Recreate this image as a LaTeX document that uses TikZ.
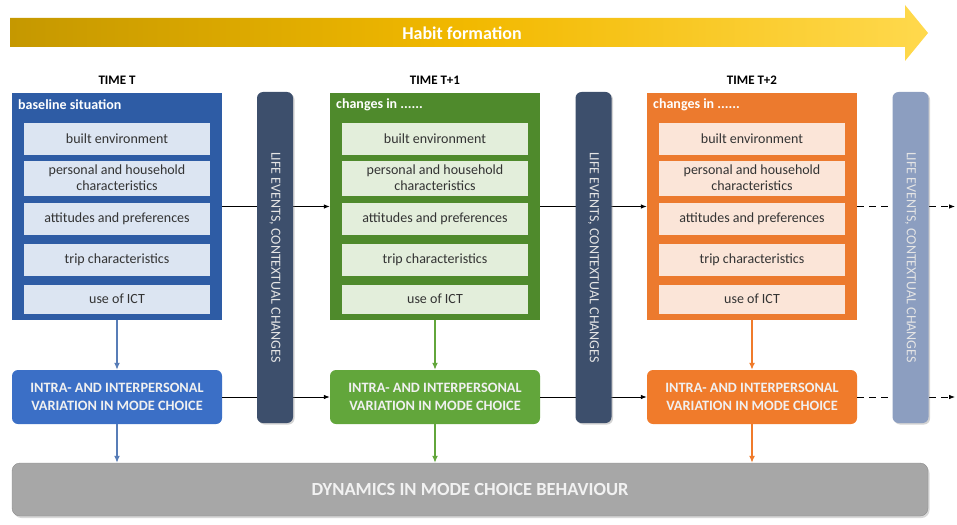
\documentclass[tikz,border=0pt]{standalone}
\usepackage{fontspec}
\setmainfont{Carlito}
\usetikzlibrary{arrows.meta,shadows}

\definecolor{blueout}{HTML}{2E5CA5}
\definecolor{bluein}{HTML}{DCE5F2}
\definecolor{bluemode}{HTML}{3B6FC6}
\definecolor{greenout}{HTML}{4F8A2C}
\definecolor{greenin}{HTML}{E3EEDB}
\definecolor{greenmode}{HTML}{62A63B}
\definecolor{orangeout}{HTML}{EC7A2E}
\definecolor{orangein}{HTML}{FBE5D8}
\definecolor{orangemode}{HTML}{F07B2B}
\definecolor{bardark}{HTML}{3D4F6C}
\definecolor{barlight}{HTML}{8C9EC0}
\definecolor{dyngray}{HTML}{A7A7A7}
\definecolor{habitL}{HTML}{C59800}
\definecolor{habitM}{HTML}{F2B900}
\definecolor{habitR}{HTML}{FFD94D}

\begin{document}
\begin{tikzpicture}[x=1pt,y=1pt]
		\tikzstyle{every node}+=[inner sep=0pt]
		\tikzstyle{time}=[font=\fontsize{13}{13}\selectfont\bfseries]
		\tikzstyle{outer}=[minimum width=210pt, minimum height=227pt]
		\tikzstyle{title}=[anchor=west, text=white, font=\fontsize{14}{14}\selectfont\bfseries]
		\tikzstyle{item}=[minimum width=186pt, minimum height=32pt, align=center, text=black!80, font=\fontsize{14}{16}\selectfont]
		\tikzstyle{mode}=[rounded corners=6pt, minimum width=210pt, minimum height=54pt, align=center, text=white!88!gray, font=\fontsize{14.3}{18}\selectfont\bfseries]
		\tikzstyle{lifebar}=[rounded corners=6pt, minimum width=36pt, minimum height=331pt, text=white!80!gray, font=\fontsize{14}{14}\selectfont, drop shadow={opacity=0.35, shadow xshift=1.5pt, shadow yshift=-1.5pt}]
		\tikzstyle{flow}=[-{Latex[length=6pt,width=4.5pt]}, line width=0.8pt]
		\tikzstyle{down}=[-{Latex[length=7pt,width=6pt]}, line width=1.3pt]
		\tikzstyle{ahead}=[dash pattern=on 7pt off 5pt]
		\useasboundingbox (0,0) rectangle (957,-524);
		% habit formation banner
		\shade [left color=habitL, right color=habitR, middle color=habitM] (10,-18) -- (905,-18) -- (905,-5) -- (928,-33) -- (905,-61) -- (905,-47) -- (10,-47) -- cycle;
		\node [text=white, font=\fontsize{18}{18}\selectfont\bfseries] (habit) at (462,-33) {Habit formation};
		% time T
		\node [time] (t1) at (117,-80) {TIME T};
		\node [outer, fill=blueout] (b1) at (117,-206.5) {};
		\node [title] (b1t) at (18,-105) {baseline situation};
		\node [item, fill=bluein] (b1a) at (117,-139) {built environment};
		\node [item, fill=bluein, minimum height=35pt] (b1b) at (117,-178) {personal and household\\characteristics};
		\node [item, fill=bluein] (b1c) at (117,-218.5) {attitudes and preferences};
		\node [item, fill=bluein] (b1d) at (117,-260) {trip characteristics};
		\node [item, fill=bluein, minimum height=29pt] (b1e) at (117,-299) {use of ICT};
		\node [mode, fill=bluemode] (m1) at (117,-397) {INTRA- AND INTERPERSONAL\\VARIATION IN MODE CHOICE};
		% time T+1
		\node [time] (t2) at (435,-80) {TIME T+1};
		\node [outer, fill=greenout] (b2) at (435,-206.5) {};
		\node [title] (b2t) at (336,-105) {changes in ......};
		\node [item, fill=greenin] (b2a) at (435,-139) {built environment};
		\node [item, fill=greenin, minimum height=35pt] (b2b) at (435,-178) {personal and household\\characteristics};
		\node [item, fill=greenin] (b2c) at (435,-218.5) {attitudes and preferences};
		\node [item, fill=greenin] (b2d) at (435,-260) {trip characteristics};
		\node [item, fill=greenin, minimum height=29pt] (b2e) at (435,-299) {use of ICT};
		\node [mode, fill=greenmode] (m2) at (435,-397) {INTRA- AND INTERPERSONAL\\VARIATION IN MODE CHOICE};
		% time T+2
		\node [time] (t3) at (752,-80) {TIME T+2};
		\node [outer, fill=orangeout] (b3) at (752,-206.5) {};
		\node [title] (b3t) at (653,-105) {changes in ......};
		\node [item, fill=orangein] (b3a) at (752,-139) {built environment};
		\node [item, fill=orangein, minimum height=35pt] (b3b) at (752,-178) {personal and household\\characteristics};
		\node [item, fill=orangein] (b3c) at (752,-218.5) {attitudes and preferences};
		\node [item, fill=orangein] (b3d) at (752,-260) {trip characteristics};
		\node [item, fill=orangein, minimum height=29pt] (b3e) at (752,-299) {use of ICT};
		\node [mode, fill=orangemode] (m3) at (752,-397) {INTRA- AND INTERPERSONAL\\VARIATION IN MODE CHOICE};
		% dynamics
		\node [rounded corners=8pt, minimum width=916pt, minimum height=53pt, fill=dyngray, draw=black!45, text=white!90!gray, font=\fontsize{18.5}{18.5}\selectfont\bfseries, drop shadow={opacity=0.3, shadow xshift=1.5pt, shadow yshift=-2pt}] (dyn) at (470,-489.5) {DYNAMICS IN MODE CHOICE BEHAVIOUR};
		\coordinate (end1) at (955,-206.5);
		\coordinate (end2) at (955,-397);
		% horizontal arrows, behind the bars
		\draw [flow] (b1.east) -- (b2.west);
		\draw [flow] (b2.east) -- (b3.west);
		\draw [flow, ahead] (b3.east) -- (end1);
		\draw [flow] (m1.east) -- (m2.west);
		\draw [flow] (m2.east) -- (m3.west);
		\draw [flow, ahead] (m3.east) -- (end2);
		% life events bars
		\node [lifebar, fill=bardark] (e1) at (275,-257.5) {\rotatebox{-90}{LIFE EVENTS, CONTEXTUAL CHANGES}};
		\node [lifebar, fill=bardark] (e2) at (593.5,-257.5) {\rotatebox{-90}{LIFE EVENTS, CONTEXTUAL CHANGES}};
		\node [lifebar, fill=barlight] (e3) at (910.5,-257.5) {\rotatebox{-90}{LIFE EVENTS, CONTEXTUAL CHANGES}};
		% vertical arrows
		\draw [down, blueout!80!white] (b1.south) -- (m1.north);
		\draw [down, greenmode] (b2.south) -- (m2.north);
		\draw [down, orangemode] (b3.south) -- (m3.north);
		\draw [down, blueout!80!white] (m1.south) -- (m1.south |- dyn.north);
		\draw [down, greenmode] (m2.south) -- (m2.south |- dyn.north);
		\draw [down, orangemode] (m3.south) -- (m3.south |- dyn.north);
	\end{tikzpicture}
\end{document}
